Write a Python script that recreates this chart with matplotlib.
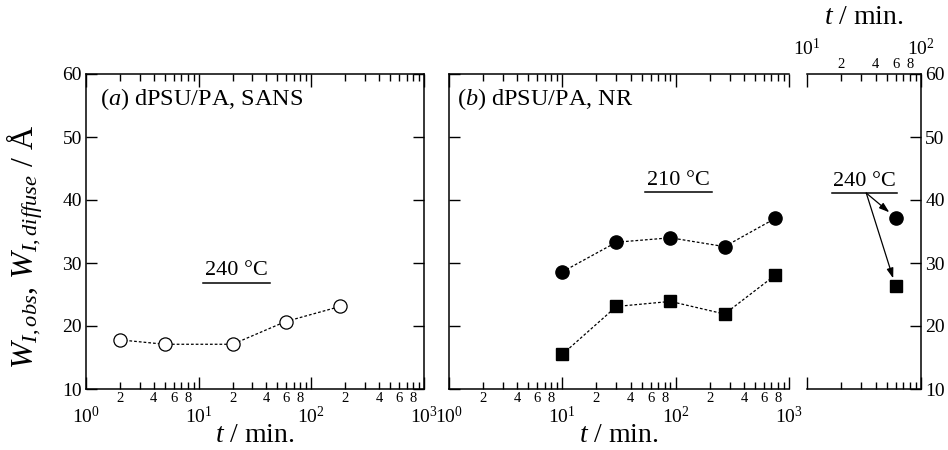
import numpy as np
import matplotlib
matplotlib.use("Agg")
import matplotlib.pyplot as plt
from matplotlib.ticker import LogLocator, FuncFormatter

plt.rcParams['font.family'] = ['Liberation Serif', 'DejaVu Serif']
plt.rcParams['mathtext.fontset'] = 'custom'
plt.rcParams['mathtext.rm'] = 'Liberation Serif'
plt.rcParams['mathtext.it'] = 'Liberation Serif:italic'
plt.rcParams['mathtext.bf'] = 'Liberation Serif:bold'

# ---- data ----
sans_t = [2, 5, 20, 59, 180]
sans_w = [17.8, 17.1, 17.1, 20.7, 23.1]

nr210_t = [10, 30, 90, 270, 760]
nr210_obs = [28.6, 33.3, 34.0, 32.6, 37.1]
nr210_diff = [15.5, 23.1, 23.9, 21.9, 28.1]

nr240_t = [60]
nr240_obs = [37.2]
nr240_diff = [26.3]

yticks = [10, 20, 30, 40, 50, 60]
ylabel = r"$W_{I,obs}$, $W_{I,diffuse}$ / Å"
xlabel = r"$t$ / min."

fig = plt.figure(figsize=(9.48, 4.5), dpi=100)
y0 = 61 / 450
h = 315 / 450
axA = fig.add_axes([86 / 948, y0, 338 / 948, h])
axB = fig.add_axes([449 / 948, y0, 340 / 948, h])
axC = fig.add_axes([807 / 948, y0, 114 / 948, h])

def minor_fmt(x, pos):
    e = np.floor(np.log10(x) + 1e-9)
    m = int(round(x / 10 ** e))
    return str(m) if m in (2, 4, 6, 8) else ''

def major_fmt(x, pos):
    e = int(round(np.log10(x)))
    return r"$10^{%d}$" % e

line_kw = dict(color='k', ls=(0, (2.2, 1.6)), lw=0.9)

for ax in (axA, axB, axC):
    ax.set_xscale('log')
    ax.set_ylim(10, 60)
    ax.set_yticks(yticks)
    ax.xaxis.set_major_locator(LogLocator(base=10, numticks=10))
    ax.xaxis.set_minor_locator(LogLocator(base=10, subs=np.arange(2, 10), numticks=20))
    ax.tick_params(which='both', direction='in', colors='k', width=1.0)
    ax.tick_params(which='major', length=9, labelsize=14, pad=12)
    ax.tick_params(which='minor', length=5, labelsize=10.5, pad=2)
    ax.tick_params(axis='y', which='major', length=8, pad=3)
    for s in ax.spines.values():
        s.set_linewidth(1.1)

# Panel A
axA.set_xlim(1, 1000)
axA.xaxis.set_major_formatter(FuncFormatter(major_fmt))
axA.xaxis.set_minor_formatter(FuncFormatter(minor_fmt))
axA.tick_params(axis='x', which='both', top=True, bottom=True)
axA.tick_params(axis='y', left=True, right=True)
axA.plot(sans_t, sans_w, **line_kw, marker='o', ms=9.5, mfc='white', mec='k', mew=0.9)
axA.set_ylabel(ylabel, fontsize=23)
axA.yaxis.set_label_coords(-0.12, 0.45)
axA.set_xlabel(xlabel, fontsize=20, labelpad=-3)
axA.text(0.041, 0.902, r"($a$) dPSU/PA, SANS", transform=axA.transAxes, fontsize=17.5,
         ha='left', va='baseline')
axA.text(0.444, 0.362, "240 °C", transform=axA.transAxes, fontsize=16, ha='center', va='baseline')
axA.plot([0.346, 0.544], [0.337, 0.337], transform=axA.transAxes, color='k', lw=1.1)

# Panel B
axB.set_xlim(1, 1000)
axB.spines['right'].set_visible(False)
axB.xaxis.set_major_formatter(FuncFormatter(major_fmt))
axB.xaxis.set_minor_formatter(FuncFormatter(minor_fmt))
axB.tick_params(axis='x', which='both', top=True, bottom=True)
axB.tick_params(axis='y', left=True, right=False, labelleft=False)
axB.plot(nr210_t, nr210_obs, **line_kw, marker='o', ms=9.5, mfc='k', mec='k')
axB.plot(nr210_t, nr210_diff, **line_kw, marker='s', ms=9, mfc='k', mec='k')
axB.set_xlabel(xlabel, fontsize=20, labelpad=-3)
axB.text(0.024, 0.902, r"($b$) dPSU/PA, NR", transform=axB.transAxes, fontsize=17.5,
         ha='left', va='baseline')
axB.text(0.674, 0.648, "210 °C", transform=axB.transAxes, fontsize=16, ha='center', va='baseline')
axB.plot([0.575, 0.773], [0.625, 0.625], transform=axB.transAxes, color='k', lw=1.1)

# Panel C
axC.set_xlim(10, 100)
axC.spines['left'].set_visible(False)
axC.xaxis.set_major_formatter(FuncFormatter(major_fmt))
axC.xaxis.set_minor_formatter(FuncFormatter(minor_fmt))
axC.tick_params(axis='x', which='both', top=True, bottom=True, labeltop=True, labelbottom=False)
axC.tick_params(axis='x', which='major', pad=11)
axC.tick_params(axis='y', left=False, right=True, labelleft=False, labelright=True)
axC.xaxis.set_label_position('top')
axC.set_xlabel(xlabel, fontsize=20, labelpad=10)
axC.plot(nr240_t, nr240_obs, ls='none', marker='o', ms=9.5, mfc='k', mec='k')
axC.plot(nr240_t, nr240_diff, ls='none', marker='s', ms=9, mfc='k', mec='k')
axC.text(0.50, 0.645, "240 °C", transform=axC.transAxes, fontsize=16, ha='center', va='baseline')
axC.plot([0.22, 0.79], [0.622, 0.622], transform=axC.transAxes, color='k', lw=1.1)
arrow = dict(arrowstyle='-|>,head_length=0.6,head_width=0.2', color='k', lw=0.9,
             shrinkA=0, shrinkB=6)
axC.annotate('', xy=(nr240_t[0], nr240_obs[0]), xycoords='data',
             xytext=(0.52, 0.622), textcoords='axes fraction', arrowprops=arrow)
axC.annotate('', xy=(nr240_t[0], nr240_diff[0]), xycoords='data',
             xytext=(0.52, 0.622), textcoords='axes fraction', arrowprops=arrow)

fig.savefig('out.png', dpi=100)
